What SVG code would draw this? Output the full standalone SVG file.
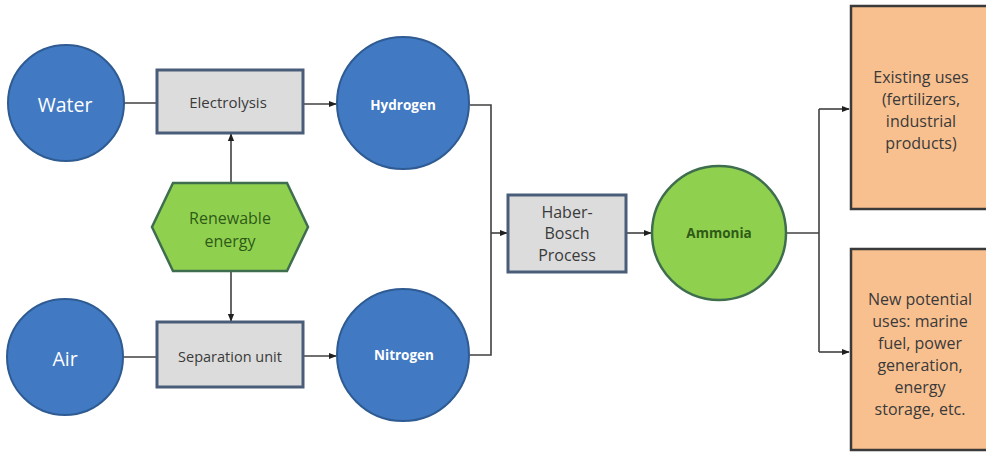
<svg xmlns="http://www.w3.org/2000/svg" width="986" height="457" viewBox="0 0 986 457">
<defs>
<style>
.blue{fill:#4179c2;stroke:#2f5b93;stroke-width:2}
.grey{fill:#dcdcdc;stroke:#4a5d78;stroke-width:3}
.green{fill:#8fd14f;stroke:#3f6e4e;stroke-width:2.5}
.orange{fill:#f9c08f;stroke:#3a3a3a;stroke-width:2.5}
.conn{fill:none;stroke:#404040;stroke-width:1.6}
text{font-family:"Open Sans","Noto Sans","Liberation Sans",sans-serif;text-anchor:middle;dominant-baseline:central}
.wt{fill:#ffffff}
.dt{fill:#3a3a3a}
.ot{fill:#3a3a3a;font-size:16px}
.gt{fill:#2f5a17}
</style>
<marker id="ah" viewBox="0 0 10 10" refX="9" refY="5" markerWidth="5" markerHeight="5" orient="auto">
<path d="M0,1 L10,5 L0,9 z" fill="#202020"/>
</marker>
</defs>
<rect width="986" height="457" fill="#ffffff"/>
<g id="connectors">
<path class="conn" d="M124,103 H157"/>
<path class="conn" d="M303,104 H336" marker-end="url(#ah)"/>
<path class="conn" d="M231,183 V134" marker-end="url(#ah)"/>
<path class="conn" d="M231,271 V321" marker-end="url(#ah)"/>
<path class="conn" d="M123,357 H157"/>
<path class="conn" d="M303,356 H336" marker-end="url(#ah)"/>
<path class="conn" d="M470,105 H491 V355 H470"/>
<path class="conn" d="M491,233 H507" marker-end="url(#ah)"/>
<path class="conn" d="M626,233 H651" marker-end="url(#ah)"/>
<path class="conn" d="M786,233 H819"/>
<path class="conn" d="M819,109 V352"/>
<path class="conn" d="M819,109 H849" marker-end="url(#ah)"/>
<path class="conn" d="M819,352 H849" marker-end="url(#ah)"/>
</g>
<g id="water"><circle class="blue" cx="66" cy="103" r="58"/><text class="wt" x="65" y="104" font-size="19.5">Water</text></g>
<g id="electrolysis"><rect class="grey" x="157" y="70" width="146" height="63"/><text class="dt" x="228" y="102" font-size="15">Electrolysis</text></g>
<g id="hydrogen"><circle class="blue" cx="403" cy="103" r="66"/><text class="wt" x="403" y="105" font-size="13.5" font-weight="bold">Hydrogen</text></g>
<g id="renewable"><polygon class="green" points="173,183 287,183 308,227 287,271 173,271 152,227"/><text class="gt" x="230" y="218" font-size="16">Renewable</text><text class="gt" x="230" y="241" font-size="16">energy</text></g>
<g id="air"><circle class="blue" cx="65" cy="357" r="58"/><text class="wt" x="65" y="358" font-size="19.5">Air</text></g>
<g id="separation"><rect class="grey" x="157" y="322" width="146" height="65"/><text class="dt" x="230" y="356" font-size="14.5">Separation unit</text></g>
<g id="nitrogen"><circle class="blue" cx="403" cy="355" r="66"/><text class="wt" x="404" y="355" font-size="13.5" font-weight="bold">Nitrogen</text></g>
<g id="haber"><rect class="grey" x="508" y="195" width="118" height="77"/><text class="dt" x="567" y="212" font-size="16">Haber-</text><text class="dt" x="567" y="233" font-size="16">Bosch</text><text class="dt" x="567" y="255" font-size="16">Process</text></g>
<g id="ammonia"><circle class="green" cx="719" cy="233" r="67"/><text class="gt" x="719" y="233" font-size="13.5" font-weight="bold">Ammonia</text></g>
<g id="existing"><rect class="orange" x="851" y="6" width="140" height="203"/><text class="ot" x="921" y="77">Existing uses</text><text class="ot" x="921" y="99">(fertilizers,</text><text class="ot" x="921" y="121">industrial</text><text class="ot" x="921" y="143">products)</text></g>
<g id="newuses"><rect class="orange" x="851" y="249" width="140" height="201"/><text class="ot" x="920" y="299">New potential</text><text class="ot" x="920" y="321">uses: marine</text><text class="ot" x="920" y="343">fuel, power</text><text class="ot" x="920" y="365">generation,</text><text class="ot" x="920" y="387">energy</text><text class="ot" x="920" y="409">storage, etc.</text></g>
</svg>
